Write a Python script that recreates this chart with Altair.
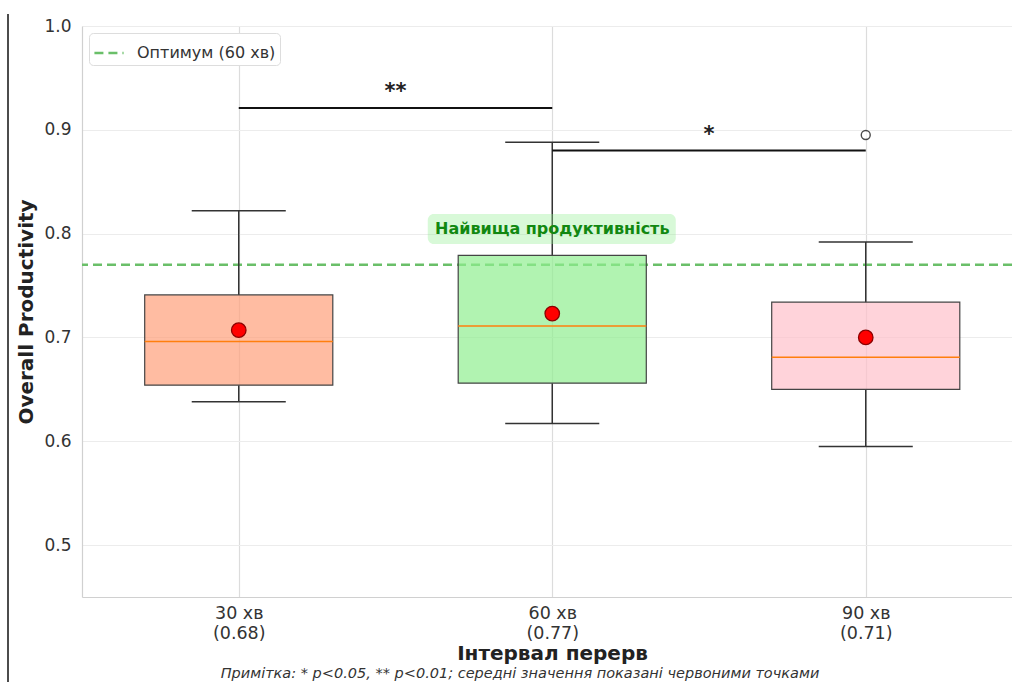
import altair as alt
import pandas as pd

# Break-interval groups and their summary statistics
intervals = ["30 хв", "60 хв", "90 хв"]
tick_means = ["0.68", "0.77", "0.71"]
q1 = [0.654, 0.656, 0.650]
q3 = [0.741, 0.779, 0.734]
medians = [0.696, 0.711, 0.681]
means = [0.707, 0.723, 0.700]
whisker_low = [0.638, 0.617, 0.595]
whisker_high = [0.822, 0.888, 0.792]
box_colors = ["#FFA07A", "#90EE90", "#FFC0CB"]

# Outliers (group index, value)
outlier_group = [2]
outlier_value = [0.895]

# Significance brackets: from group, to group, height, stars
sig_from = [0, 1]
sig_to = [1, 2]
sig_height = [0.921, 0.880]
sig_stars = ["**", "*"]

optimum_value = 0.77
optimum_label = "Оптимум (60 хв)"
best_label = "Найвища продуктивність"
note = "Примітка: * p<0.05, ** p<0.01; середні значення показані червоними точками"

FONT = "DejaVu Sans"
HALF_BOX = 0.3
HALF_CAP = 0.15

boxes = pd.DataFrame({
    "interval": intervals,
    "pos": list(range(len(intervals))),
    "q1": q1, "q3": q3, "median": medians, "mean": means,
    "lo": whisker_low, "hi": whisker_high,
})
outliers = pd.DataFrame({"pos": outlier_group, "value": outlier_value})
sig = pd.DataFrame({"a": sig_from, "b": sig_to, "h": sig_height, "stars": sig_stars})
optimum = pd.DataFrame({"opt": [optimum_value], "label": [optimum_label]})

label_expr = "[" + ",".join(
    f"['{n}','({m})']" for n, m in zip(intervals, tick_means)
) + "][datum.value]"

x_scale = alt.Scale(domain=[-0.5, 2.4665], nice=False, zero=False)
y_scale = alt.Scale(domain=[0.45, 1.0], nice=False, zero=False)

x_axis = alt.Axis(
    values=[0, 1, 2], labelExpr=label_expr, ticks=False,
    labelFontSize=17.5, labelLineHeight=20, labelColor="#333", labelPadding=7,
    gridColor="#dcdcdc", gridWidth=1.2, domainColor="#d0d0d0", domainWidth=1.2,
    title="Інтервал перерв", titleFontSize=20, titleFontWeight="bold",
    titleColor="#222", titleX=470, titlePadding=2,
)
y_axis = alt.Axis(
    values=[0.5, 0.6, 0.7, 0.8, 0.9, 1.0], format=".1f", ticks=False,
    labelFontSize=17, labelColor="#333", labelPadding=11,
    gridColor="#ececec", gridWidth=1.2, domainColor="#d0d0d0", domainWidth=1.2,
    title="Overall Productivity", titleFontSize=20, titleFontWeight="bold",
    titleColor="#222", titlePadding=7,
)

base = alt.Chart(boxes)

frame = base.mark_point(opacity=0).encode(
    x=alt.X("pos:Q", scale=x_scale, axis=x_axis),
    y=alt.Y("median:Q", scale=y_scale, axis=y_axis),
)

opt_line = alt.Chart(optimum).mark_rule(strokeDash=[9, 5], strokeWidth=2.5).encode(
    y=alt.Y("opt:Q", scale=y_scale),
    color=alt.Color(
        "label:N", scale=alt.Scale(range=["#6abf69"]),
        legend=alt.Legend(
            title=None, orient="top-left", offset=7, symbolType="stroke",
            symbolStrokeWidth=2.5, symbolDash=[9, 5], symbolSize=850,
            labelFontSize=16, labelColor="#333", labelFont=FONT,
            fillColor="white", strokeColor="#dddddd", cornerRadius=4,
            padding=4, labelOffset=12,
        ),
    ),
)

with_ends = base.transform_calculate(
    left=f"datum.pos - {HALF_BOX}", right=f"datum.pos + {HALF_BOX}",
    cap_l=f"datum.pos - {HALF_CAP}", cap_r=f"datum.pos + {HALF_CAP}",
)

whisk_low = base.mark_rule(color="#333", strokeWidth=1.5).encode(
    x="pos:Q", y=alt.Y("lo:Q"), y2="q1:Q")
whisk_high = base.mark_rule(color="#333", strokeWidth=1.5).encode(
    x="pos:Q", y=alt.Y("q3:Q"), y2="hi:Q")
cap_low = with_ends.mark_rule(color="#333", strokeWidth=1.5).encode(
    x="cap_l:Q", x2="cap_r:Q", y="lo:Q")
cap_high = with_ends.mark_rule(color="#333", strokeWidth=1.5).encode(
    x="cap_l:Q", x2="cap_r:Q", y="hi:Q")

box = with_ends.mark_rect(fillOpacity=0.7, stroke="#444", strokeWidth=1.2).encode(
    x="left:Q", x2="right:Q", y="q1:Q", y2="q3:Q",
    fill=alt.Fill("interval:N", scale=alt.Scale(domain=intervals, range=box_colors),
                  legend=None),
)
median_line = with_ends.mark_rule(color="#ff7f0e", strokeWidth=1.5).encode(
    x="left:Q", x2="right:Q", y="median:Q")
mean_dot = base.mark_point(filled=True, shape="circle", size=210, fill="red",
                           stroke="#8b0000", strokeWidth=1.3, opacity=1).encode(
    x="pos:Q", y="mean:Q")

outlier_pts = alt.Chart(outliers).mark_point(
    shape="circle", size=80, color="black", strokeWidth=1.4, fill="white", filled=False
).encode(x="pos:Q", y="value:Q")

sig_calc = alt.Chart(sig).transform_calculate(mid="(datum.a + datum.b) / 2")
sig_lines = alt.Chart(sig).mark_rule(color="#111", strokeWidth=2).encode(
    x="a:Q", x2="b:Q", y="h:Q")
sig_text = sig_calc.mark_text(fontSize=21, fontWeight="bold", color="#222",
                              baseline="alphabetic", dy=-10, font=FONT).encode(
    x="mid:Q", y="h:Q", text="stars:N")

best = pd.DataFrame({"pos": [1], "y": [0.8045], "x0": [0.603], "x1": [1.394],
                     "y0": [0.790], "y1": [0.819], "label": [best_label]})
best_bg = alt.Chart(best).mark_rect(fill="#90EE90", fillOpacity=0.35, cornerRadius=6).encode(
    x="x0:Q", x2="x1:Q", y="y0:Q", y2="y1:Q")
best_text = alt.Chart(best).mark_text(fontSize=16, fontWeight="bold", color="#118811",
                                      font=FONT).encode(
    x="pos:Q", y="y:Q", text="label:N")

left_edge = alt.Chart(optimum).mark_rule(color="#111", strokeWidth=1.5).encode(
    x=alt.value(-74), y=alt.value(-12), y2=alt.value(660))

footnote = alt.Chart(optimum).mark_text(
    fontSize=14.5, fontStyle="italic", color="#333", font=FONT
).encode(x=alt.value(438), y=alt.value(648), text=alt.value(note))

chart = alt.layer(
    frame, opt_line, whisk_low, whisk_high, cap_low, cap_high, box, median_line,
    mean_dot, outlier_pts, sig_lines, sig_text, best_bg, best_text,
    left_edge, footnote,
).properties(
    width=930, height=571,
    autosize=alt.AutoSizeParams(type="none"),
    padding={"left": 82, "top": 26, "right": 0, "bottom": 85},
).configure(font=FONT).configure_view(stroke=None)

chart.save("out.html", embed_options={"renderer": "svg", "actions": False})
